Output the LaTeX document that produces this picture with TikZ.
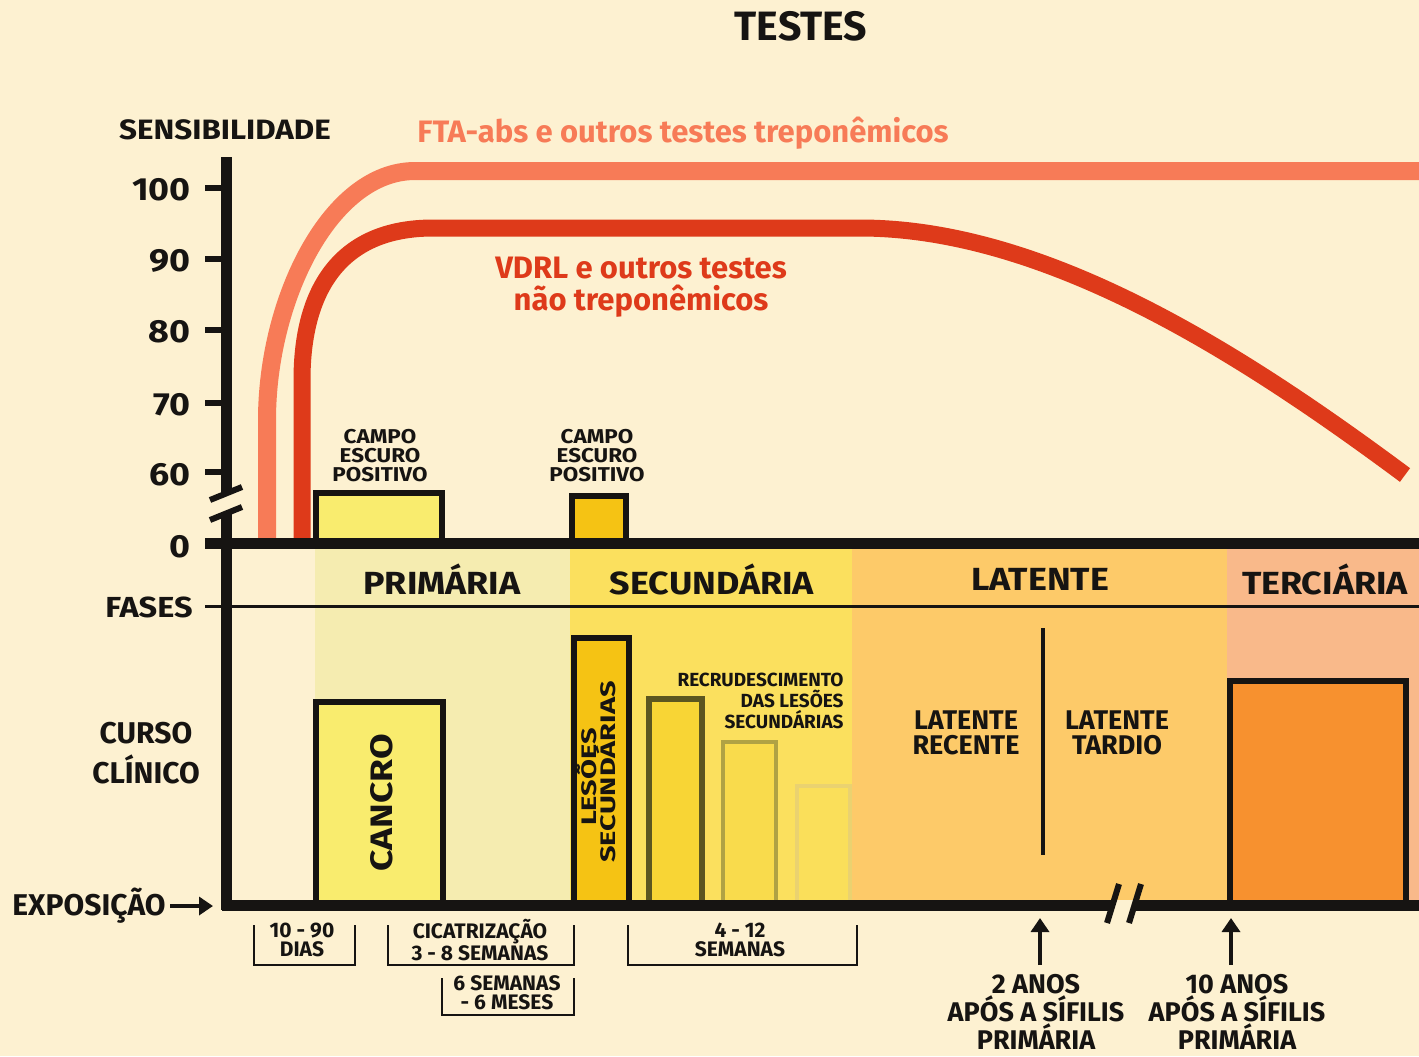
\documentclass[tikz,border=0pt]{standalone}
\usepackage{fontspec}
\newfontfamily\cf{Fira Sans}[FakeStretch=1.0]
\newfontfamily\cfw{Fira Sans}[FakeStretch=1.12]
\usetikzlibrary{arrows.meta}
\definecolor{bg}{HTML}{FDF1D1}
\definecolor{ink}{HTML}{161412}
\definecolor{primband}{HTML}{F5ECB0}
\definecolor{secband}{HTML}{FBE05E}
\definecolor{latband}{HTML}{FDCA69}
\definecolor{terband}{HTML}{F9B98A}
\definecolor{cancrofill}{HTML}{F9EC6E}
\definecolor{lesfill}{HTML}{F5C314}
\definecolor{bar1fill}{HTML}{F8D535}
\definecolor{bar1line}{HTML}{5C5620}
\definecolor{bar2fill}{HTML}{F9DB4C}
\definecolor{bar2line}{HTML}{B0A244}
\definecolor{bar3fill}{HTML}{FADF5A}
\definecolor{bar3line}{HTML}{EAD270}
\definecolor{tercfill}{HTML}{F7912F}
\definecolor{fta}{HTML}{F77B57}
\definecolor{vdrl}{HTML}{DE3A1A}
\begin{document}
\begin{tikzpicture}[x=0.5pt,y=-0.5pt,
  axisline/.style={draw=ink,line width=5.5pt},
  tickline/.style={draw=ink,line width=2.6pt},
  slashline/.style={draw=ink,line width=3pt},
  boxline/.style={draw=ink,line width=2.6pt},
  bracket/.style={draw=ink,line width=1.3pt},
  curve/.style={line width=#1,line cap=butt,line join=round},
  lab/.style={inner sep=0pt,text=ink,align=center,font=\cf\bfseries\fontsize{#1}{#1}\selectfont},
  wlab/.style={inner sep=0pt,text=ink,align=center,font=\cfw\bfseries\fontsize{#1}{#1}\selectfont},
  mlab/.style 2 args={inner sep=0pt,text=ink,align=center,font=\cf\bfseries\fontsize{#1}{#2}\selectfont},
  wmlab/.style 2 args={inner sep=0pt,text=ink,align=center,font=\cfw\bfseries\fontsize{#1}{#2}\selectfont},
  arr/.style={draw=ink,line width=2pt,-{Triangle[length=7pt,width=9pt]}}
]
\useasboundingbox (0,0) rectangle (1419,1056);
\fill[bg] (0,0) rectangle (1419,1056);

% phase bands
\fill[primband] (315,549) rectangle (570,900);
\fill[secband] (570,549) rectangle (852,900);
\fill[latband] (852,549) rectangle (1227,900);
\fill[terband] (1227,549) rectangle (1419,900);

% fases line
\draw[ink,line width=1.5pt] (205,606) -- (1419,606);

% campo escuro boxes
\filldraw[boxline,fill=cancrofill] (316,493) rectangle (442,543);
\filldraw[boxline,fill=lesfill] (572,496) rectangle (626,543);

% clinical boxes
\filldraw[boxline,fill=cancrofill] (316,702) rectangle (443,905);
\filldraw[boxline,fill=lesfill] (574,638) rectangle (629,905);
\filldraw[line width=2.6pt,draw=bar1line,fill=bar1fill] (649,699) rectangle (702,905);
\filldraw[line width=2.2pt,draw=bar2line,fill=bar2fill] (723,742) rectangle (776,905);
\filldraw[line width=1.6pt,draw=bar3line,fill=bar3fill] (797,786) rectangle (850,905);
\filldraw[boxline,fill=tercfill] (1230,681) rectangle (1406,905);

% latente divider
\draw[ink,line width=2pt] (1043,628) -- (1043,855);

% curves
\draw[fta,curve=9pt] (267,540) -- (267,420) .. controls (267,300) and (330,171) .. (415,171) -- (1419,171);
\draw[vdrl,curve=8.5pt] (302,540) -- (302,380) .. controls (302,290) and (340,228) .. (433,228) -- (860,228) .. controls (1050,228) and (1250,360) .. (1405,475);

% axes
\draw[axisline] (226,157) -- (226,494);
\draw[axisline] (226,513) -- (226,910);
\draw[slashline] (210,500) -- (242,487);
\draw[slashline] (210,520) -- (242,507);
\draw[axisline] (205,543) -- (1419,543);
\draw[axisline] (222,905) -- (1113,905);
\draw[axisline] (1134,905) -- (1419,905);
\draw[slashline] (1107,923) -- (1119,884);
\draw[slashline] (1129,923) -- (1141,884);

% ticks
\foreach \yy in {188,259,330,403,472} \draw[tickline] (205,\yy) -- (226,\yy);

% titles
\node[lab=20.5] (testes) at (801,26) {TESTES};
\node[wlab=14] (sens) at (225,130) {SENSIBILIDADE};
\node[lab=15.5,text=fta,anchor=west] (ftalab) at (417,133) {FTA-abs e outros testes treponêmicos};
\node[mlab={15.5}{16},text=vdrl] (vdrllab) at (641,287) {VDRL e outros testes\\não treponêmicos};

% tick labels
\node[wlab=16,anchor=east] (l100) at (191,190) {100};
\node[wlab=16,anchor=east] (l90) at (191,261) {90};
\node[wlab=16,anchor=east] (l80) at (191,332) {80};
\node[wlab=16,anchor=east] (l70) at (191,405) {70};
\node[wlab=16,anchor=east] (l60) at (191,475) {60};
\node[wlab=16,anchor=east] (l0) at (191,547) {0};

% campo escuro labels
\node[wmlab={10}{9.5}] (campo1) at (380,456) {CAMPO\\ESCURO\\POSITIVO};
\node[wmlab={10}{9.5}] (campo2) at (597,456) {CAMPO\\ESCURO\\POSITIVO};

% phases
\node[wlab=16] (prim) at (442,579) {PRIMÁRIA};
\node[wlab=16] (secu) at (712,579) {SECUNDÁRIA};
\node[wlab=16] (late) at (1040,579) {LATENTE};
\node[wlab=16] (terc) at (1325,579) {TERCIÁRIA};

% left labels
\node[wlab=14.5,anchor=east] (fases) at (193,607) {FASES};
\node[mlab={15}{20}] (curso) at (146,753) {CURSO\\CLÍNICO};
\node[lab=15,anchor=west] (expo) at (12,906) {EXPOSIÇÃO};
\coordinate (expoend) at (213,906);
\draw[arr] (expo.east) ++(2pt,0) -- (expoend);

% box labels
\node[lab=15.5,rotate=90] (cancro) at (382,803) {\scalebox{1.2}[1]{CANCRO}};
\node[lab=10.5,rotate=90,anchor=south] (lesoes1) at (597,777) {\scalebox{1.38}[1]{LESÕES}};
\node[lab=10.5,rotate=90,anchor=south] (lesoes2) at (616,772) {\scalebox{1.38}[1]{SECUNDÁRIAS}};
\node[mlab={9.5}{10.5},align=right,anchor=east] (recru) at (844,701) {RECRUDESCIMENTO\\DAS LESÕES\\SECUNDÁRIAS};
\node[mlab={13.5}{12.5}] (latrec) at (966,733) {LATENTE\\RECENTE};
\node[mlab={13.5}{12.5}] (lattar) at (1117,733) {LATENTE\\TARDIO};

% brackets
\draw[bracket] (254,925) |- (355,965) -- (355,925);
\node[mlab={10.5}{9.5}] (b1) at (302,940) {10 - 90\\DIAS};
\draw[bracket] (388,925) |- (574,965) -- (574,925);
\node[mlab={10.5}{9.5}] (b2) at (480,940) {CICATRIZAÇÃO\\3 - 8 SEMANAS};
\draw[bracket] (442,978) |- (574,1015) -- (574,978);
\node[mlab={10.5}{9.5}] (b3) at (507,993) {6 SEMANAS\\- 6 MESES};
\draw[bracket] (628,925) |- (857,965) -- (857,925);
\node[mlab={10.5}{9.5}] (b4) at (740,940) {4 - 12\\SEMANAS};

% year markers
\node[mlab={13.5}{12.5}] (ano2) at (1036,1012) {2 ANOS\\APÓS A SÍFILIS\\PRIMÁRIA};
\node[mlab={13.5}{12.5}] (ano10) at (1237,1012) {10 ANOS\\APÓS A SÍFILIS\\PRIMÁRIA};
\coordinate (a2top) at (1040,918);
\coordinate (a10top) at (1231,918);
\draw[arr] (1040,965) -- (a2top);
\draw[arr] (1231,965) -- (a10top);
\end{tikzpicture}
\end{document}
